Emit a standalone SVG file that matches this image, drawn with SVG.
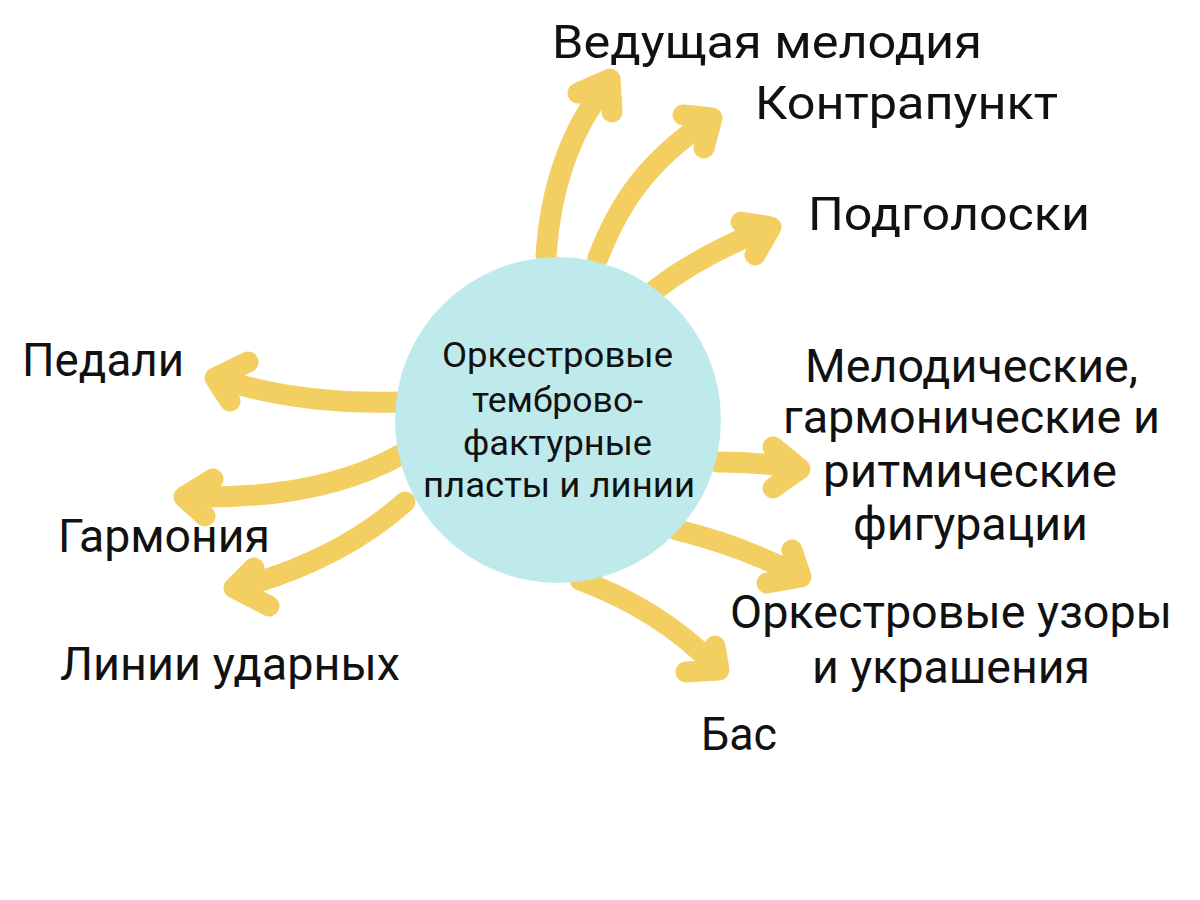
<svg xmlns="http://www.w3.org/2000/svg" width="1200" height="900" viewBox="0 0 1200 900">
<style>
.arr{fill:none;stroke:#F3CF62;stroke-width:21;stroke-linecap:round;stroke-linejoin:round}
.lbl{font-family:Roboto,"Noto Sans",sans-serif;font-size:46px;fill:#111}
.ctr{font-family:Roboto,"Noto Sans",sans-serif;font-size:35px;fill:#111}
</style>
<rect width="1200" height="900" fill="#fff"/>
<g id="connectors">
<path class="arr" d="M546,256 C550,190 570,130 606,86 M578,93 L610,79 L612,112"/>
<path class="arr" d="M598,258 C620,200 650,160 706,122 M683,115 L712,118 L704,148"/>
<path class="arr" d="M655,290 Q700,255 766,229 M741,222 L771,227 L755,255"/>
<path class="arr" d="M400,402 Q300,405 220,379 M248,362 L215,378 L230,401"/>
<path class="arr" d="M400,455 Q320,500 188,497 M213,479 L184,497 L205,516"/>
<path class="arr" d="M405,502 Q340,560 238,588 M254,568 L234,588 L269,606"/>
<path class="arr" d="M718,462 Q760,462 796,468 M773,447 L800,469 L773,488"/>
<path class="arr" d="M677,530 Q740,545 798,575 M792,550 L801,577 L767,583"/>
<path class="arr" d="M580,580 Q660,610 713,664 M715,646 L719,670 L686,672"/>
</g>
<g id="center">
<circle cx="558" cy="420" r="163" fill="#BFEAEC"/>
<text class="ctr" x="442" y="367" textLength="231" lengthAdjust="spacingAndGlyphs">Оркестровые</text>
<text class="ctr" x="472" y="412" textLength="171" lengthAdjust="spacingAndGlyphs">темброво-</text>
<text class="ctr" x="463" y="455" textLength="189" lengthAdjust="spacingAndGlyphs">фактурные</text>
<text class="ctr" x="423" y="497" textLength="272" lengthAdjust="spacingAndGlyphs">пласты и линии</text>
</g>
<g id="n-melody"><text class="lbl" x="552" y="58" textLength="430" lengthAdjust="spacingAndGlyphs">Ведущая мелодия</text></g>
<g id="n-counterpoint"><text class="lbl" x="755" y="119" textLength="303" lengthAdjust="spacingAndGlyphs">Контрапункт</text></g>
<g id="n-podgoloski"><text class="lbl" x="808" y="230" textLength="282" lengthAdjust="spacingAndGlyphs">Подголоски</text></g>
<g id="n-figurations">
<text class="lbl" x="805" y="382" textLength="333" lengthAdjust="spacingAndGlyphs">Мелодические,</text>
<text class="lbl" x="783" y="433" textLength="377" lengthAdjust="spacingAndGlyphs">гармонические и</text>
<text class="lbl" x="823" y="487" textLength="294" lengthAdjust="spacingAndGlyphs">ритмические</text>
<text class="lbl" x="853" y="540" textLength="235" lengthAdjust="spacingAndGlyphs">фигурации</text>
</g>
<g id="n-patterns">
<text class="lbl" x="730" y="628" textLength="442" lengthAdjust="spacingAndGlyphs">Оркестровые узоры</text>
<text class="lbl" x="812" y="683" textLength="278" lengthAdjust="spacingAndGlyphs">и украшения</text>
</g>
<g id="n-bass"><text class="lbl" x="701" y="750" textLength="76" lengthAdjust="spacingAndGlyphs">Бас</text></g>
<g id="n-pedals"><text class="lbl" x="22" y="376" textLength="162" lengthAdjust="spacingAndGlyphs">Педали</text></g>
<g id="n-harmony"><text class="lbl" x="58" y="552" textLength="212" lengthAdjust="spacingAndGlyphs">Гармония</text></g>
<g id="n-percussion"><text class="lbl" x="60" y="680" textLength="340" lengthAdjust="spacingAndGlyphs">Линии ударных</text></g>
</svg>
